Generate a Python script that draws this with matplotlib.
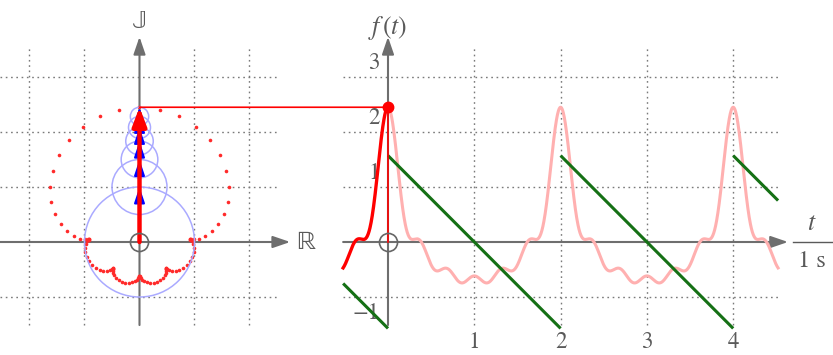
import numpy as np
import matplotlib
matplotlib.use("Agg")
import matplotlib.pyplot as plt
from matplotlib.patches import Circle, ConnectionPatch

plt.rcParams['mathtext.fontset'] = 'stix'
plt.rcParams['font.family'] = ['STIXGeneral', 'DejaVu Sans']

# Fourier amplitudes of the harmonics (n = 1..6)
harmonics = [1, 2, 3, 4, 5, 6]
amps = [1.0, 0.5, 0.3333, 0.25, 0.2, 0.1667]

# sawtooth pieces (t start/end, value start/end)
saw_t = [[-0.52, 0.0], [0.0, 2.0], [2.0, 4.0], [4.0, 4.52]]
saw_f = [[-0.754, -1.571], [1.571, -1.571], [1.571, -1.571], [1.571, 0.754]]

# grid / tick positions
left_grid_x = [-2, -1, 1, 2]
left_grid_y = [-1, 1, 2, 3]
right_grid_t = [1, 2, 3, 4]
right_grid_f = [-1, 1, 2, 3]
t_ticks = [1, 2, 3, 4]
f_ticks = [3, 2, 1, -1]

AXIS_C = '#6e6e6e'
GRID_C = '#7a7a7a'
TEXT_C = '#5a5a5a'
PINK = '#ffb0b0'
RED = '#ff0000'
GREEN = '#157015'
LAV = '#aaaaff'
FS = 16.5

fig = plt.figure(figsize=(8.33, 3.55), dpi=100)
axL = fig.add_axes([0, 0, 330 / 833, 1])
axR = fig.add_axes([330 / 833, 0, 503 / 833, 1])

# pixel-matched limits: 55 px per unit vertically, 86.3 px per t unit
axL.set_xlim(-139.5 / 55, 190.5 / 55)
axR.set_xlim(-58 / 86.3, 445 / 86.3)
for ax in (axL, axR):
    ax.set_ylim(-113 / 55, 242 / 55)
    ax.axis('off')


def sum_series(t):
    t = np.asarray(t, dtype=float)
    re = np.zeros_like(t)
    im = np.zeros_like(t)
    for n, a in zip(harmonics, amps):
        re -= a * np.sin(n * np.pi * t)
        im += a * np.cos(n * np.pi * t)
    return re, im


def axis_arrow(ax, start, end):
    ax.annotate('', xy=end, xytext=start,
                arrowprops=dict(arrowstyle='-|>,head_length=1.05,head_width=0.36',
                                color=AXIS_C, lw=1.5, shrinkA=0, shrinkB=0),
                zorder=2)


# ---------------- left panel: phasors ----------------
xl0, xl1 = -2.54, 2.54
yl0, yl1 = -1.51, 3.53
for gx in left_grid_x:
    axL.plot([gx, gx], [yl0, yl1], color=GRID_C, lw=1, ls=(0, (1.2, 2.6)), zorder=1)
for gy in left_grid_y:
    axL.plot([xl0, xl1], [gy, gy], color=GRID_C, lw=1, ls=(0, (1.2, 2.6)), zorder=1)

axis_arrow(axL, (xl0, 0), (2.74, 0))
axis_arrow(axL, (0, yl0), (0, 3.73))
axL.text(0, 4.0, '\U0001D541', fontsize=19, color=TEXT_C, ha='center', va='center')
axL.text(3.02, -0.02, '\u211D', fontsize=19, color=TEXT_C, ha='center', va='center')

# traced locus of the tip
tt = np.arange(0, 2, 0.02)
lx, ly = sum_series(tt)
axL.plot(lx, ly, ls='none', marker='o', ms=2.6, mec='none', mfc='#ff2a2a', zorder=3)

# circles and phasors at t = 0
base = 0.0
for a in amps:
    axL.add_patch(Circle((0, base), a, fill=False, ec=LAV, lw=1.1, zorder=4))
    axL.annotate('', xy=(0, base + a), xytext=(0, base),
                 arrowprops=dict(arrowstyle='-|>,head_length=0.95,head_width=0.32',
                                 color='#0000ff', lw=1.5, shrinkA=0, shrinkB=0),
                 zorder=5)
    base += a
tip = base
axL.annotate('', xy=(0, tip), xytext=(0, 0),
             arrowprops=dict(arrowstyle='-|>,head_length=1.1,head_width=0.42',
                             color=RED, lw=3.2, shrinkA=0, shrinkB=0),
             zorder=6)
axL.plot([0], [0], marker='o', ms=13, mfc='none', mec='#666666', mew=1.2, zorder=7)

# ---------------- right panel: time signal ----------------
tr0, tr1 = -0.52, 4.52
for gt in right_grid_t:
    axR.plot([gt, gt], [yl0, yl1], color=GRID_C, lw=1, ls=(0, (1.2, 2.6)), zorder=1)
for gf in right_grid_f:
    axR.plot([tr0, tr1], [gf, gf], color=GRID_C, lw=1, ls=(0, (1.2, 2.6)), zorder=1)

axis_arrow(axR, (tr0, 0), (4.635, 0))
axis_arrow(axR, (0, yl0), (0, 3.73))

ts = np.linspace(0, tr1, 1200)
axR.plot(ts, sum_series(ts)[1], color=PINK, lw=2.2, zorder=3)
tp = np.linspace(tr0, 0, 200)
axR.plot(tp, sum_series(tp)[1], color=RED, lw=2.4, zorder=4)

for st, sf in zip(saw_t, saw_f):
    axR.plot(st, sf, color=GREEN, lw=2.2, zorder=5, solid_capstyle='butt')

axR.plot([0, 0], [0, tip], color=RED, lw=1.2, zorder=6)
axR.plot([0], [tip], marker='o', ms=7.5, color=RED, zorder=7)
axR.plot([0], [0], marker='o', ms=13, mfc='none', mec='#666666', mew=1.2, zorder=7)

con = ConnectionPatch(xyA=(0, tip), coordsA=axL.transData,
                      xyB=(0, tip), coordsB=axR.transData,
                      color=RED, lw=1.2, zorder=8)
fig.add_artist(con)

for v in f_ticks:
    off = 0.255 if v > 0 else -0.29
    axR.text(-0.093, v + off, str(v).replace('-', '\u2212'), fontsize=FS,
             color=TEXT_C, ha='right', va='center')
for v in t_ticks:
    axR.text(v, -1.82, str(v), fontsize=FS, color=TEXT_C, ha='center', va='center')

axR.text(0, 3.9, r'$f\,(t)$', fontsize=FS + 2, color=TEXT_C, ha='center', va='center')
axR.text(4.91, 0.32, r'$t$', fontsize=FS + 2, color=TEXT_C, ha='center', va='center')
axR.plot([4.69, 5.157], [0, 0], color=TEXT_C, lw=1.0, clip_on=False)
axR.text(4.91, -0.36, r'1 s', fontsize=FS + 1, color=TEXT_C, ha='center', va='center')

fig.savefig('out.png', dpi=100)
